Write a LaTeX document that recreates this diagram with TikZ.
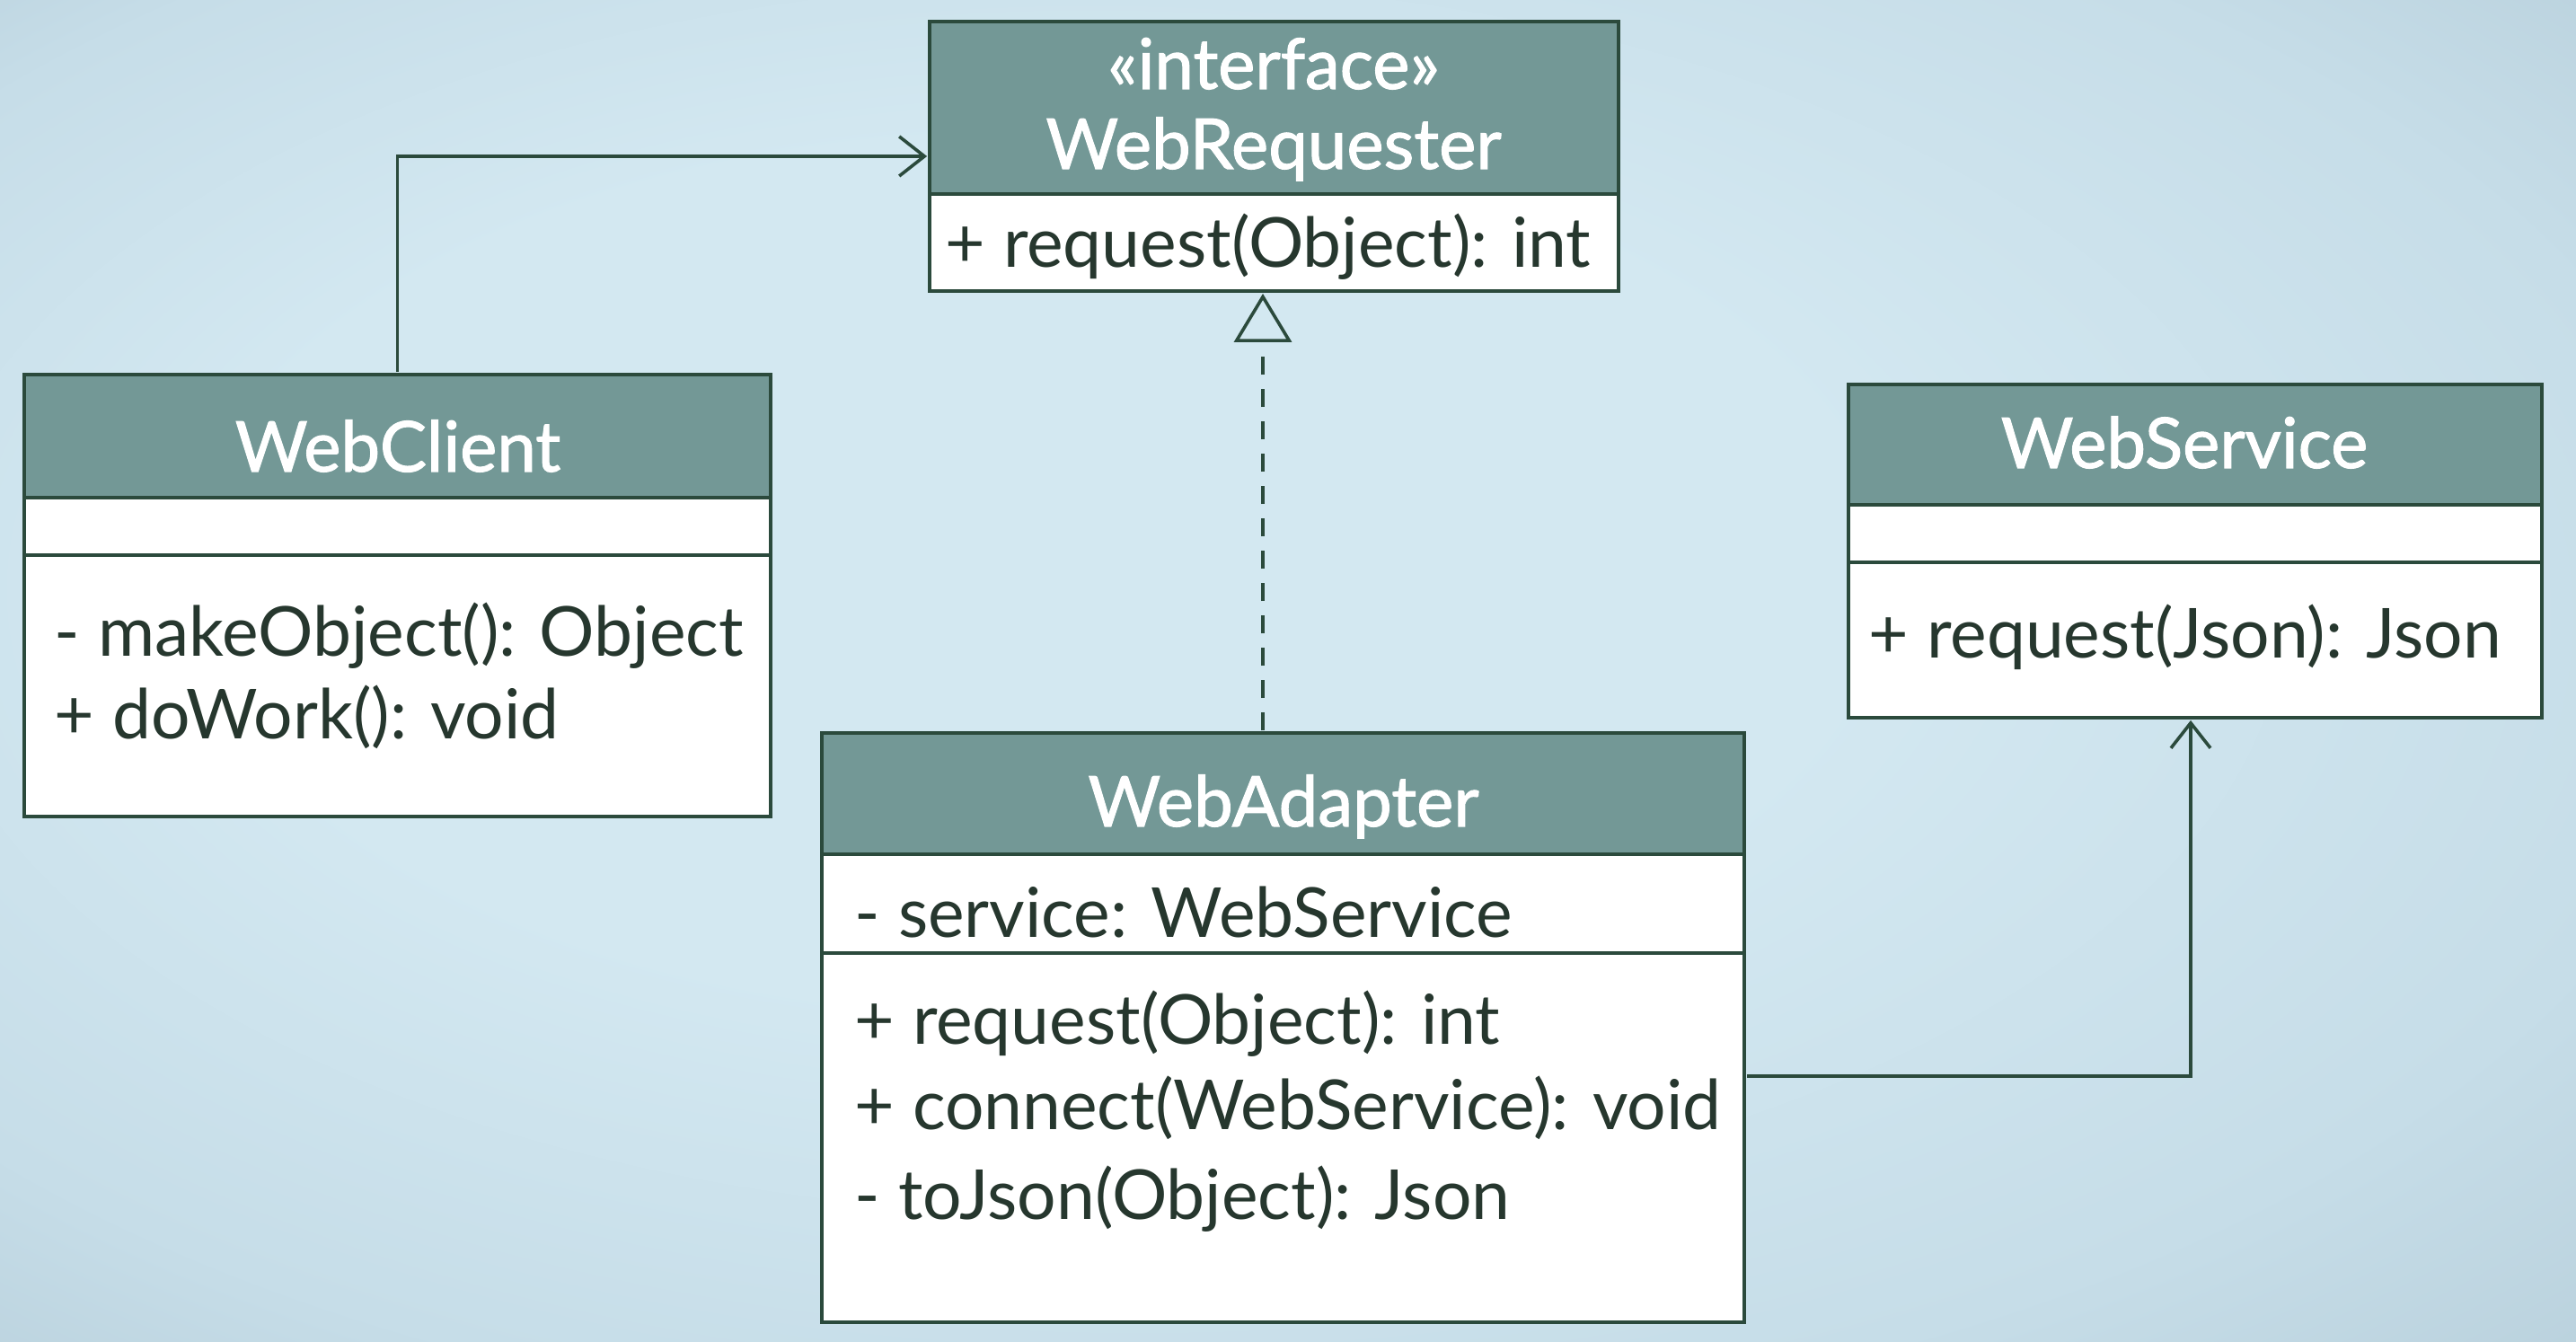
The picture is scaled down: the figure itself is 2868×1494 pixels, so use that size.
\documentclass[tikz,border=0pt]{standalone}
\usepackage{fontspec}
\setmainfont{Lato}
\newfontfamily\headfont{Lato}[FakeBold=1.4]
\usetikzlibrary{arrows.meta,fit,calc}

\definecolor{bgLight}{HTML}{D3E8F1}
\definecolor{bgMid}{HTML}{C6DDE8}
\definecolor{bgEdge}{HTML}{B2CAD6}
\definecolor{headFill}{HTML}{739896}
\definecolor{umlLine}{HTML}{2B4A3C}
\definecolor{umlText}{HTML}{26372E}

\pgfdeclareradialshading{bgglow}{\pgfpoint{-8bp}{6bp}}{%
  color(0bp)=(bgLight); color(16bp)=(bgLight); color(30bp)=(bgMid); color(42bp)=(bgEdge)}

\tikzset{
  head/.style={rectangle, draw=umlLine, fill=headFill, line width=1.05pt, inner sep=0pt},
  compart/.style={rectangle, draw=umlLine, fill=white, line width=1.05pt, inner sep=0pt},
  title/.style={anchor=base, inner sep=0pt, text=white,
    font=\headfont\fontsize{19.5}{23}\selectfont},
  member/.style={anchor=base west, inner sep=0pt, text=umlText,
    font=\fontsize{19.2}{23}\selectfont},
  whole/.style={rectangle, inner sep=0pt},
  assoc/.style={draw=umlLine, line width=0.9pt,
    -{Straight Barb[length=7pt,width=11pt,line width=0.9pt]}},
  realize/.style={draw=umlLine, line width=1.15pt, dash pattern=on 5pt off 4pt,
    -{Triangle[open,length=13.5pt,width=16pt,line width=0.9pt]}}
}

\begin{document}
\begin{tikzpicture}[x=0.25pt,y=-0.25pt]
\useasboundingbox (0,0) rectangle (2868,1494);
\shade[shading=bgglow] (0,0) rectangle (2868,1494);

% interface WebRequester
\node[compart, fit={(1035,216) (1802,324)}] (reqM) {};
\node[head, fit={(1035,24) (1802,216)}] (reqH) {};
\node[title] (reqS) at (1418,99) {«interface»};
\node[title] (reqT) at (1418,188) {WebRequester};
\node[member] (reqM1) at (1052,298) {+ request(Object): int};
\node[whole, fit=(reqH)(reqM)] (req) {};

% class WebClient
\node[compart, fit={(27,618) (858,909)}] (cliM) {};
\node[compart, fit={(27,554) (858,618)}] (cliA) {};
\node[head, fit={(27,417) (858,554)}] (cliH) {};
\node[title] (cliT) at (443,525) {WebClient};
\node[member] (cliM1) at (60,731) {- makeObject(): Object};
\node[member] (cliM2) at (60,823) {+ doWork(): void};
\node[whole, fit=(cliH)(cliM)] (client) {};

% class WebAdapter
\node[compart, fit={(915,1061) (1942,1472)}] (adpM) {};
\node[compart, fit={(915,951) (1942,1061)}] (adpA) {};
\node[head, fit={(915,816) (1942,951)}] (adpH) {};
\node[title] (adpT) at (1429,920) {WebAdapter};
\node[member] (adpA1) at (951,1044) {- service: WebService};
\node[member] (adpM1) at (951,1163) {+ request(Object): int};
\node[member] (adpM2) at (951,1258) {+ connect(WebService): void};
\node[member] (adpM3) at (951,1357) {- toJson(Object): Json};
\node[whole, fit=(adpH)(adpM)] (adapter) {};

% class WebService
\node[compart, fit={(2058,626) (2830,799)}] (srvM) {};
\node[compart, fit={(2058,562) (2830,626)}] (srvA) {};
\node[head, fit={(2058,428) (2830,562)}] (srvH) {};
\node[title] (srvT) at (2432,521) {WebService};
\node[member] (srvM1) at (2080,733) {+ request(Json): Json};
\node[whole, fit=(srvH)(srvM)] (service) {};

% relations
\coordinate (realX) at (1406,0);
\coordinate (linkX) at (2439,0);
\coordinate (linkY) at (0,1198);
\draw[assoc] (client.north) |- (req.west);
\draw[realize] (adapter.north -| realX) -- (req.south -| realX);
\draw[assoc] (adapter.east |- linkY) -| (service.south -| linkX);
\end{tikzpicture}
\end{document}
